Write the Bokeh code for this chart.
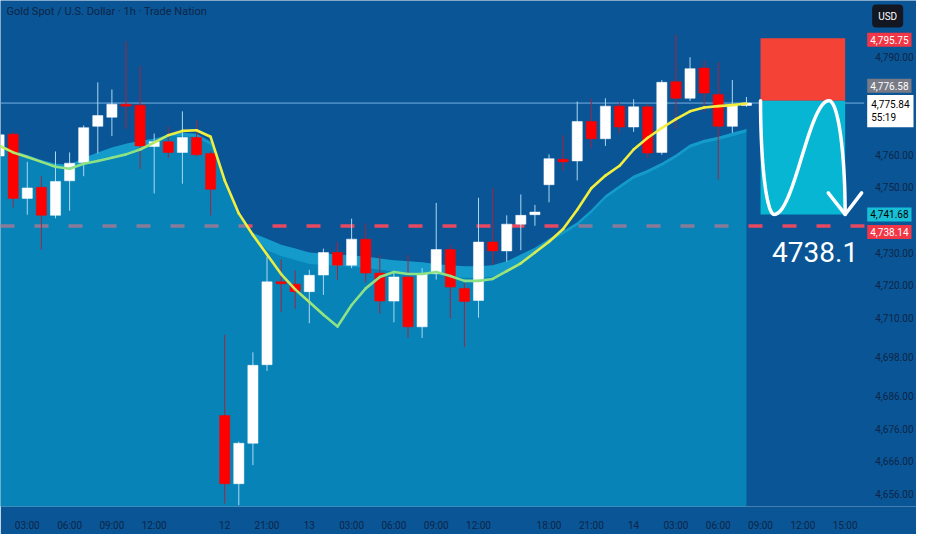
import numpy as np
from bokeh.plotting import figure
from bokeh.models import Range1d, Label, FixedTicker, NumeralTickFormatter
from bokeh.embed import file_html
from bokeh.resources import INLINE

title_text = "Gold Spot / U.S. Dollar · 1h · Trade Nation"

# hourly candles (bar index 0..53)
opens = [4759.6, 4766.3, 4746.6, 4750.0, 4741.4, 4752.0, 4757.6, 4768.7, 4771.5, 4775.5,
         4775.2, 4762.5, 4764.0, 4760.7, 4765.3, 4760.4, 4680.0, 4659.1, 4671.5, 4695.6,
         4721.0, 4720.3, 4718.0, 4723.1, 4730.0, 4726.1, 4734.1, 4723.7, 4715.1, 4722.5,
         4707.2, 4723.5, 4730.9, 4719.0, 4715.3, 4733.2, 4730.5, 4738.7, 4741.6, 4750.8,
         4758.6, 4758.1, 4770.2, 4764.9, 4774.9, 4768.5, 4774.7, 4760.7, 4782.4, 4777.3,
         4786.6, 4778.5, 4768.7, 4775.1]
highs = [4768.0, 4767.0, 4757.8, 4753.4, 4761.0, 4760.7, 4769.0, 4782.2, 4780.0, 4794.8,
         4787.2, 4766.5, 4768.7, 4773.3, 4770.5, 4761.0, 4704.8, 4672.0, 4699.4, 4728.7,
         4727.9, 4724.5, 4724.7, 4731.2, 4733.2, 4740.4, 4738.9, 4729.2, 4723.7, 4729.2,
         4725.2, 4745.2, 4732.2, 4720.7, 4746.8, 4749.8, 4741.4, 4747.8, 4744.6, 4760.1,
         4766.0, 4776.3, 4777.3, 4777.3, 4776.0, 4777.0, 4775.5, 4782.9, 4796.9, 4789.9,
         4788.9, 4788.4, 4782.9, 4777.7]
lows = [4758.0, 4743.8, 4741.6, 4730.9, 4740.5, 4742.8, 4753.4, 4760.4, 4765.7, 4768.0,
        4755.6, 4748.1, 4759.0, 4751.1, 4759.5, 4741.4, 4653.0, 4652.5, 4664.8, 4693.7,
        4711.8, 4712.8, 4708.3, 4717.0, 4721.6, 4725.2, 4720.7, 4711.3, 4708.6, 4703.8,
        4703.8, 4721.7, 4709.8, 4701.0, 4710.0, 4726.2, 4727.2, 4730.7, 4738.2, 4745.4,
        4755.1, 4752.1, 4762.0, 4762.7, 4766.5, 4767.0, 4759.0, 4760.0, 4768.0, 4776.5,
        4773.0, 4752.4, 4766.7, 4774.7]
closes = [4766.1, 4746.6, 4749.8, 4741.4, 4751.8, 4757.4, 4768.3, 4772.0, 4775.5, 4774.9,
          4762.7, 4764.0, 4760.7, 4765.3, 4760.0, 4749.4, 4659.1, 4671.5, 4695.4, 4721.0,
          4720.4, 4718.0, 4723.0, 4730.0, 4726.1, 4734.1, 4723.7, 4715.1, 4722.5, 4707.2,
          4723.5, 4730.9, 4719.4, 4715.0, 4733.2, 4730.5, 4738.7, 4741.4, 4742.4, 4758.8,
          4757.8, 4770.2, 4764.9, 4774.9, 4768.5, 4774.7, 4760.5, 4782.2, 4777.3, 4786.4,
          4778.9, 4768.7, 4775.3, 4775.84]

# fast moving average (yellow/green line)
ma_fast = [4762.8, 4760.7, 4759.3, 4757.8, 4756.3, 4755.7, 4757.2, 4758.1, 4759.1, 4760.1,
           4761.6, 4763.7, 4766.0, 4767.3, 4767.5, 4765.5, 4752.1, 4742.0, 4735.4, 4729.4,
           4723.4, 4718.7, 4714.8, 4710.9, 4707.3, 4713.9, 4719.0, 4722.5, 4724.0, 4723.4,
           4723.4, 4724.0, 4722.8, 4721.3, 4721.3, 4721.9, 4724.3, 4726.7, 4730.0, 4733.3,
           4737.2, 4743.1, 4749.7, 4753.6, 4756.6, 4761.6, 4765.2, 4768.2, 4770.9, 4773.3,
           4774.5, 4774.9, 4775.2, 4775.7]
# slow average (top of the shaded area)
ma_slow = [4763.1, 4761.3, 4759.9, 4758.4, 4757.2, 4756.9, 4759.0, 4760.7, 4762.2, 4763.4,
           4764.3, 4764.9, 4766.1, 4766.7, 4766.4, 4764.0, 4752.5, 4742.5, 4736.0, 4734.2,
           4732.4, 4731.2, 4730.0, 4729.7, 4729.4, 4729.1, 4728.8, 4728.2, 4727.6, 4727.3,
           4727.0, 4726.4, 4726.1, 4725.8, 4725.8, 4726.1, 4727.3, 4729.4, 4731.5, 4734.2,
           4736.6, 4739.3, 4743.1, 4747.6, 4750.6, 4753.6, 4755.4, 4757.5, 4760.1, 4763.1,
           4764.6, 4765.5, 4766.7, 4767.9]
# line colour tone per bar (0 = green, 1 = yellow)
ma_tone = [0.7, 0.4, 0.25, 0.15, 0, 0, 0, 0, 0, 0,
           0, 0.4, 0.8, 1, 1, 1, 1, 1, 1, 1,
           0.75, 0.5, 0.25, 0, 0, 0, 0, 0, 0, 0,
           0, 0, 0, 0, 0, 0, 0.2, 0.45, 0.7, 0.9,
           1, 1, 1, 1, 1, 1, 1, 1, 1, 1,
           1, 1, 1, 1]

x_tick_pos = [2, 5, 8, 11, 16, 19, 22, 25, 28, 31, 34, 39, 42, 45, 48, 51, 54, 57, 60]
x_tick_lab = ["03:00", "06:00", "09:00", "12:00", "12", "21:00", "13", "03:00", "06:00",
              "09:00", "12:00", "18:00", "21:00", "14", "03:00", "06:00", "09:00", "12:00", "15:00"]
y_ticks = [4790, 4760, 4750, 4730, 4720, 4710, 4698, 4686, 4676, 4666, 4656]

last_price = 4775.84
countdown = "55:19"
level_price = 4738.14
level_text = "4738.1"
tool_entry = 4776.58
tool_stop = 4795.75
tool_target = 4741.68
tool_x0, tool_x1 = 54, 60

BG = "#0a5596"
TXT = "#0d2546"
FONT = "Roboto"

X0, AXIS_X, X1 = 0.1, 61.35, 65.06   # chart area ends where the price scale begins

o = np.array(opens); h = np.array(highs); l = np.array(lows); c = np.array(closes)
fast = np.array(ma_fast); slow = np.array(ma_slow)
n = len(o)
idx = np.arange(n)
up = c >= o

p = figure(width=916, height=534, output_backend="svg", toolbar_location=None,
           x_range=Range1d(X0, X1), y_range=Range1d(4652.1, 4807.3),
           y_axis_location="right", min_border_left=0, min_border_top=0,
           min_border_right=0, min_border_bottom=28,
           background_fill_color=BG, border_fill_color=BG, outline_line_color=None)
p.grid.visible = False

for ax in (p.xaxis[0], p.yaxis[0]):
    ax.axis_line_color = None
    ax.major_tick_line_color = None
    ax.minor_tick_line_color = None
    ax.major_label_text_color = TXT
    ax.major_label_text_font = FONT
    ax.major_label_text_font_size = "10px"
p.xaxis.ticker = FixedTicker(ticks=x_tick_pos)
p.xaxis.major_label_overrides = {k: v for k, v in zip(x_tick_pos, x_tick_lab)}
p.xaxis.major_label_standoff = 7
p.yaxis.ticker = FixedTicker(ticks=y_ticks)
p.yaxis.formatter = NumeralTickFormatter(format="0,0.00")
p.yaxis.major_label_standoff = 5
p.yaxis.fixed_location = AXIS_X

# dashed level line (beneath the translucent shaded area)
p.segment(x0=[X0], y0=[level_price], x1=[AXIS_X + 0.15], y1=[level_price],
          line_color="#e84860", line_width=3.5, line_dash="14 20")

# shaded area and its lighter edge band
p.varea(x=idx, y1=np.full(n, 4600.0), y2=slow, fill_color="#05c4e4", fill_alpha=0.42)
band_low = np.where(fast < slow, np.maximum(fast, slow - 3.5), slow - 1.0)
p.varea(x=idx, y1=band_low, y2=slow, fill_color="#28bee8", fill_alpha=0.4)

# last price line
p.segment(x0=[X0], y0=[last_price], x1=[AXIS_X], y1=[last_price],
          line_color="#78b0e4", line_width=1)

# candles
wick_col = np.where(up, "#a9d9f2", "#a3253f").tolist()
p.segment(x0=idx, y0=l, x1=idx, y1=h, line_color=wick_col, line_width=1)
p.vbar(x=idx[up], top=c[up], bottom=o[up], width=0.72, fill_color="#ffffff", line_color="#ffffff", line_width=0.5)
p.vbar(x=idx[~up], top=o[~up], bottom=c[~up], width=0.72, fill_color="#ff0000", line_color="#ff0000", line_width=0.5)

# moving average with colour gradient
tone = np.array(ma_tone, dtype=float)
yellow = np.array([242, 238, 62]); green = np.array([140, 226, 132])
t_seg = (tone[:-1] + tone[1:]) / 2
seg_cols = ["#%02x%02x%02x" % tuple(int(round(v)) for v in green + (yellow - green) * t) for t in t_seg]
p.segment(x0=idx[:-1], y0=fast[:-1], x1=idx[1:], y1=fast[1:], line_color=seg_cols,
          line_width=2.6, line_cap="round")

# short position tool
p.quad(left=[tool_x0], right=[tool_x1], bottom=[tool_entry], top=[tool_stop],
       fill_color="#f44336", line_color=None)
p.quad(left=[tool_x0], right=[tool_x1], bottom=[tool_target], top=[tool_entry],
       fill_color="#06b6d2", line_color=None)

# hand-drawn wave arrow inside the tool (fractions of the box)
ph1 = np.linspace(0, np.pi / 2, 20)
u1 = 0.16 * (1 - np.cos(ph1)); v1 = 1 - np.sin(ph1)
t2 = np.linspace(0, 1, 40)
u2 = 0.16 + 0.65 * t2; v2 = (1 - np.cos(np.pi * t2)) / 2
ph3 = np.linspace(0, np.pi / 2, 20)
u3 = 0.81 + 0.19 * np.sin(ph3); v3 = np.cos(ph3)
uu = np.concatenate([u1, u2, u3]); vv = np.concatenate([v1, v2, v3])
bw = tool_x1 - tool_x0; bh = tool_entry - tool_target
p.line(x=tool_x0 + uu * bw, y=tool_target + vv * bh, line_color="white", line_width=3.5, line_cap="round")
p.line(x=tool_x0 + np.array([0.80, 1.0, 1.195]) * bw,
       y=tool_target + np.array([0.19, 0.0, 0.19]) * bh,
       line_color="white", line_width=3.5, line_cap="round", line_join="round")

p.add_layout(Label(x=tool_x1, y=level_price, x_offset=13, y_offset=-26, text=level_text,
                   text_align="right", text_baseline="middle", text_color="white",
                   text_font="Roboto", text_font_size="28px"))

# title
p.add_layout(Label(x=X0, y=p.y_range.end, x_offset=6, y_offset=-11, text=title_text,
                   text_align="left", text_baseline="middle", text_color=TXT,
                   text_font=FONT, text_font_size="11px"))

# price tags on the scale
tags = [
    (tool_stop, "4,795.75", "#f23645", "#ffffff", -1.5),
    (tool_entry, "4,776.58", "#787b86", "#ffffff", 15),
    (tool_target, "4,741.68", "#16bfd6", "#000000", 0),
    (level_price, "4,738.14", "#f23645", "#ffffff", -6),
]
for price, txt, bg, fg, dy in tags:
    p.add_layout(Label(x=AXIS_X, y=price, x_offset=3, y_offset=dy, text=txt, text_align="left",
                       text_baseline="middle", text_color=fg, text_font=FONT,
                       text_font_size="10px", background_fill_color=bg, padding=3))
p.add_layout(Label(x=AXIS_X, y=last_price, x_offset=3, y_offset=8,
                   text="{:,.2f}\n{}".format(last_price, countdown), text_align="left",
                   text_baseline="top", text_color="#000000", text_font=FONT,
                   text_font_size="10px", background_fill_color="#ffffff", padding=4))
p.add_layout(Label(x=AXIS_X, y=p.y_range.end, x_offset=8, y_offset=-4, text="USD", text_align="left",
                   text_baseline="top", text_color="#ffffff", text_font=FONT,
                   text_font_size="10px", background_fill_color="#131722", padding=6,
                   border_radius=4))

open("out.html", "w").write(file_html(p, INLINE))
